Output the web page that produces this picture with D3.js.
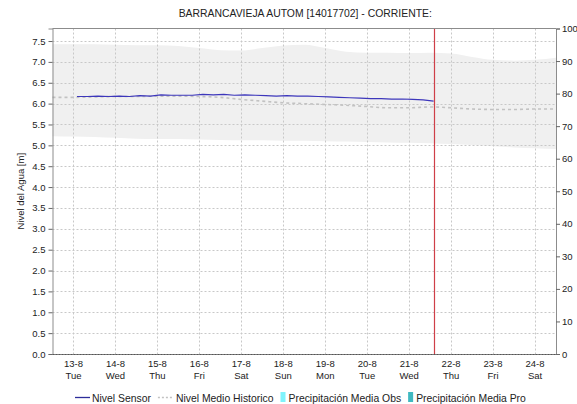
<!DOCTYPE html>
<html>
<head>
<meta charset="utf-8">
<script src="https://cdn.jsdelivr.net/npm/d3@7"></script>
<style>
  html, body { margin: 0; padding: 0; background: #fff; }
  svg { display: block; font-family: "Liberation Sans", Arial, sans-serif; }
</style>
</head>
<body>
<svg id="chart" width="577" height="404"></svg>
<script>
// Station level readings (m), every 6 h from 13-8 02:00 until 21-8 14:00
const sensorStart = "2024-08-13T02:00";
const sensorStepHours = 6;
const sensorLevel = [
  6.17, 6.17, 6.18, 6.17,
  6.18, 6.17, 6.19, 6.18,
  6.21, 6.20, 6.20, 6.20,
  6.22, 6.21, 6.22, 6.20,
  6.21, 6.20, 6.19, 6.18,
  6.19, 6.18, 6.18, 6.17,
  6.16, 6.15, 6.14, 6.13,
  6.12, 6.12, 6.11, 6.11,
  6.10, 6.09, 6.06
];

// Historical statistics (m), every 12 h from 12-8 12:00 until 24-8 12:00
const histStart = "2024-08-12T12:00";
const histStepHours = 12;
const histMean = [
  6.15, 6.15, 6.16, 6.17, 6.17, 6.18, 6.18, 6.17, 6.15, 6.10,
  6.06, 6.02, 6.00, 5.98, 5.96, 5.93, 5.90, 5.90, 5.92, 5.90,
  5.87, 5.86, 5.86, 5.87, 5.87
];
const histMax = [
  7.42, 7.42, 7.42, 7.41, 7.40, 7.40, 7.38, 7.33, 7.28, 7.27,
  7.33, 7.39, 7.41, 7.33, 7.24, 7.22, 7.22, 7.21, 7.22, 7.20,
  7.12, 7.05, 7.03, 7.05, 7.10
];
const histMin = [
  5.22, 5.21, 5.20, 5.18, 5.16, 5.15, 5.15, 5.14, 5.13, 5.12,
  5.12, 5.11, 5.11, 5.10, 5.09, 5.08, 5.07, 5.06, 5.05, 5.03,
  5.01, 4.98, 4.95, 4.93, 4.91
];

// Current time marker
const nowTime = "2024-08-21T14:25";

// Axis labels
const dayLabels = ["13-8","14-8","15-8","16-8","17-8","18-8","19-8","20-8","21-8","22-8","23-8","24-8"];
const weekdayLabels = ["Tue","Wed","Thu","Fri","Sat","Sun","Mon","Tue","Wed","Thu","Fri","Sat"];
const levelTicks = [0,0.5,1,1.5,2,2.5,3,3.5,4,4.5,5,5.5,6,6.5,7,7.5];
const precipTicks = [0,10,20,30,40,50,60,70,80,90,100];

const titleText = "BARRANCAVIEJA AUTOM [14017702] - CORRIENTE:";
const yTitle = "Nivel del Agua [m]";
const legendItems = [
  { name: "Nivel Sensor", kind: "line" },
  { name: "Nivel Medio Historico", kind: "dash" },
  { name: "Precipitación Media Obs", kind: "box", color: "#7ff3fb" },
  { name: "Precipitación Media Pro", kind: "box", color: "#3fb9c1" }
];

const parse = d3.utcParse("%Y-%m-%dT%H:%M");
const HOUR = 3600 * 1000;

const sensor = sensorLevel.map((v, i) => ({ t: new Date(parse(sensorStart).getTime() + i * sensorStepHours * HOUR), v }));
const hist = histMean.map((v, i) => ({
  t: new Date(parse(histStart).getTime() + i * histStepHours * HOUR),
  mean: v, max: histMax[i], min: histMin[i]
}));
const dayDates = dayLabels.map(s => {
  const [d, m] = s.split("-").map(Number);
  return new Date(Date.UTC(2024, m - 1, d));
});

const svg = d3.select("#chart");
const L = 52.5, R = 556, T = 28.5, B = 354;

const x = d3.scaleUtc()
  .domain([parse("2024-08-12T12:00"), parse("2024-08-24T12:00")])
  .range([L, R]);
const y = d3.scaleLinear().domain([0, 7.8]).range([B, T]);
const y2 = d3.scaleLinear().domain([0, 100]).range([B, T]);

// Title
svg.append("text")
  .attr("x", (L + R) / 2 + 1).attr("y", 17)
  .attr("text-anchor", "middle")
  .attr("font-size", 10.4).attr("fill", "#222")
  .text(titleText);

// Historical range band
svg.append("path")
  .datum(hist)
  .attr("fill", "#f0f0f0")
  .attr("d", d3.area().x(d => x(d.t)).y0(d => y(d.min)).y1(d => y(d.max)).curve(d3.curveMonotoneX));

// Grid
const grid = svg.append("g").attr("stroke", "#c8c8c8").attr("stroke-dasharray", "2,2").attr("stroke-width", 1);
grid.selectAll("line.h").data(levelTicks.filter(v => v > 0)).join("line")
  .attr("x1", L).attr("x2", R)
  .attr("y1", d => Math.round(y(d)) + 0.5).attr("y2", d => Math.round(y(d)) + 0.5);
grid.selectAll("line.v").data(dayDates).join("line")
  .attr("x1", d => Math.round(x(d)) + 0.5).attr("x2", d => Math.round(x(d)) + 0.5)
  .attr("y1", T).attr("y2", B);

// Historical mean
svg.append("path")
  .datum(hist)
  .attr("fill", "none")
  .attr("stroke", "#c2c2c2")
  .attr("stroke-width", 1.6)
  .attr("stroke-dasharray", "3,3")
  .attr("d", d3.line().x(d => x(d.t)).y(d => y(d.mean)).curve(d3.curveMonotoneX));

// Sensor level
svg.append("path")
  .datum(sensor)
  .attr("fill", "none")
  .attr("stroke", "#3d37bb")
  .attr("stroke-width", 1.2)
  .attr("d", d3.line().x(d => x(d.t)).y(d => y(d.v)));

// Current time marker
svg.append("line")
  .attr("x1", Math.round(x(parse(nowTime))) + 0.5).attr("x2", Math.round(x(parse(nowTime))) + 0.5)
  .attr("y1", T).attr("y2", B)
  .attr("stroke", "#cf3f48").attr("stroke-width", 1.2);

// Frame
svg.append("line").attr("x1", L).attr("x2", R).attr("y1", T).attr("y2", T).attr("stroke", "#8c8c8c");

// Left axis
const gl = svg.append("g").attr("transform", `translate(${L},0)`)
  .call(d3.axisLeft(y).tickValues(levelTicks).tickFormat(d3.format(".1f")).tickSize(4).tickPadding(3));
gl.select(".domain").attr("stroke", "#8c8c8c");
gl.selectAll(".tick line").attr("stroke", "#666");
gl.selectAll("text").attr("font-size", 9.5).attr("fill", "#222").attr("font-family", "Liberation Sans, Arial, sans-serif");

// Right axis
const gr = svg.append("g").attr("transform", `translate(${R},0)`)
  .call(d3.axisRight(y2).tickValues(precipTicks).tickSize(4).tickPadding(2));
gr.select(".domain").attr("stroke", "#8c8c8c");
gr.selectAll(".tick line").attr("stroke", "#666");
gr.selectAll("text").attr("font-size", 9.5).attr("fill", "#222").attr("font-family", "Liberation Sans, Arial, sans-serif");

// Baseline
svg.append("line").attr("x1", L).attr("x2", R).attr("y1", B + 0.5).attr("y2", B + 0.5)
  .attr("stroke", "#9a9a9a");
svg.append("line").attr("x1", L).attr("x2", R).attr("y1", B + 0.5).attr("y2", B + 0.5)
  .attr("stroke", "#555").attr("stroke-dasharray", "2,1");

// Bottom day labels
const gb = svg.append("g").attr("font-size", 9.5).attr("fill", "#222").attr("text-anchor", "middle");
gb.selectAll("text.d").data(dayDates).join("text")
  .attr("x", d => x(d)).attr("y", 367).text((d, i) => dayLabels[i]);
gb.selectAll("text.w").data(dayDates).join("text")
  .attr("x", d => x(d)).attr("y", 379).text((d, i) => weekdayLabels[i]);

// Y axis title
svg.append("text")
  .attr("transform", `translate(24,${(T + B) / 2}) rotate(-90)`)
  .attr("text-anchor", "middle")
  .attr("font-size", 9.5).attr("fill", "#222")
  .text(yTitle);

// Legend
const lg = svg.append("g").attr("font-size", 10.4).attr("fill", "#222");
let lx = 75;
const ly = 398;
legendItems.forEach(item => {
  if (item.kind === "line") {
    lg.append("line").attr("x1", lx).attr("x2", lx + 15).attr("y1", ly - 0.5).attr("y2", ly - 0.5)
      .attr("stroke", "#2d2d9a").attr("stroke-width", 1.3);
    lx += 17;
  } else if (item.kind === "dash") {
    lg.append("line").attr("x1", lx).attr("x2", lx + 15).attr("y1", ly - 0.5).attr("y2", ly - 0.5)
      .attr("stroke", "#c2c2c2").attr("stroke-width", 1.3).attr("stroke-dasharray", "2,2");
    lx += 18;
  } else {
    lg.append("rect").attr("x", lx).attr("y", ly - 6).attr("width", 5).attr("height", 10).attr("fill", item.color);
    lx += 8;
  }
  const t = lg.append("text").attr("x", lx).attr("y", ly + 3.5).text(item.name);
  lx += t.node().getComputedTextLength() + 7;
});
</script>
</body>
</html>
